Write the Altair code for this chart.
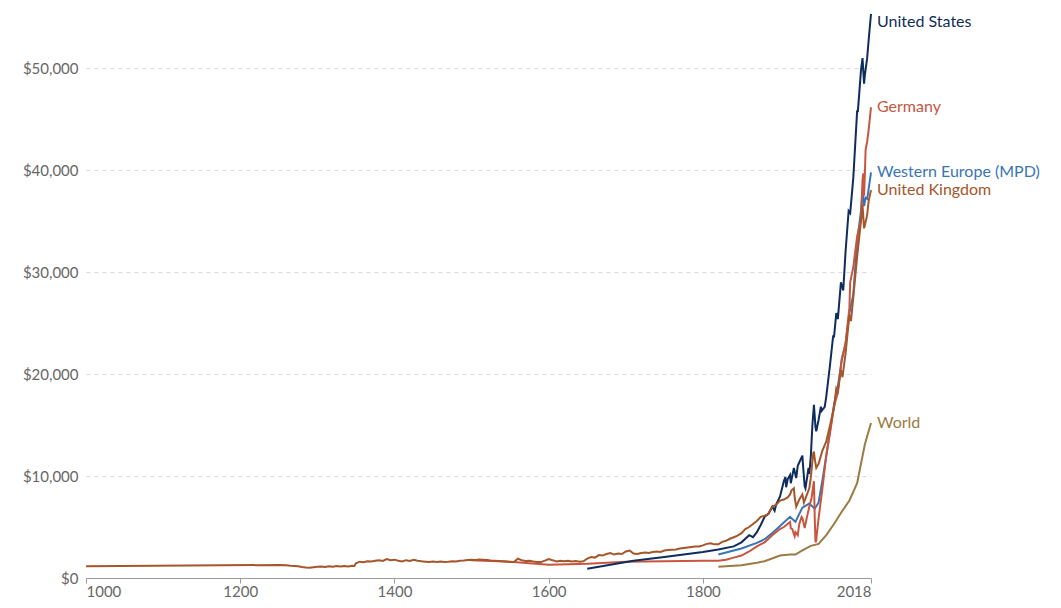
import altair as alt
import pandas as pd

# ---------------- data (GDP per capita, 2011 int-$) ----------------
uk_years = [1000, 1252, 1260, 1265, 1270, 1275, 1280, 1285, 1290, 1295, 1300, 1305, 1310, 1315, 1320,
            1325, 1330, 1335, 1340, 1345, 1348, 1350, 1355, 1360, 1365, 1370, 1375, 1380, 1385, 1390,
            1395, 1400, 1405, 1410, 1415, 1420, 1425, 1430, 1435, 1440, 1445, 1450, 1455, 1460, 1465,
            1470, 1475, 1480, 1485, 1490, 1495, 1500, 1505, 1510, 1515, 1520, 1525, 1530, 1535, 1540,
            1545, 1550, 1555, 1560, 1565, 1570, 1575, 1580, 1585, 1590, 1595, 1600, 1605, 1610, 1615,
            1620, 1625, 1630, 1635, 1640, 1645, 1650, 1655, 1660, 1665, 1670, 1675, 1680, 1685, 1690,
            1695, 1700, 1705, 1710, 1715, 1720, 1725, 1730, 1735, 1740, 1745, 1750, 1755, 1760, 1765,
            1770, 1775, 1780, 1785, 1790, 1795, 1800, 1805, 1810, 1815, 1820, 1825, 1830, 1835, 1840,
            1845, 1850, 1855, 1860, 1865, 1870, 1875, 1880, 1885, 1890, 1895, 1900, 1905, 1910, 1913,
            1915, 1918, 1919, 1921, 1925, 1929, 1931, 1935, 1938, 1940, 1943, 1944, 1945, 1947, 1950,
            1955, 1960, 1965, 1970, 1973, 1975, 1979, 1981, 1985, 1990, 1992, 1995, 2000, 2005, 2007,
            2009, 2010, 2013, 2015, 2018]
uk_values = [1150, 1280, 1250, 1200, 1180, 1150, 1080, 1020, 1000, 1060, 1100, 1130, 1090, 1160, 1110,
             1170, 1130, 1180, 1140, 1200, 1180, 1450, 1600, 1550, 1650, 1620, 1700, 1750, 1680, 1850,
             1750, 1800, 1700, 1620, 1750, 1680, 1780, 1700, 1640, 1600, 1560, 1620, 1580, 1620, 1560,
             1600, 1650, 1620, 1700, 1720, 1760, 1780, 1760, 1810, 1790, 1760, 1720, 1700, 1680, 1650,
             1620, 1580, 1560, 1900, 1750, 1680, 1700, 1620, 1580, 1560, 1700, 1850, 1750, 1620, 1700,
             1640, 1680, 1620, 1660, 1600, 1640, 1900, 2050, 2000, 2250, 2200, 2350, 2450, 2300, 2400,
             2350, 2600, 2700, 2400, 2350, 2450, 2500, 2450, 2550, 2600, 2550, 2700, 2750, 2780, 2800,
             2900, 2950, 3000, 3050, 3100, 3100, 3200, 3350, 3400, 3300, 3300, 3550, 3650, 3850, 4000,
             4150, 4400, 4800, 5000, 5300, 5600, 6000, 6100, 6300, 7000, 7200, 7600, 7700, 7900, 8200,
             8600, 8800, 7900, 7000, 7700, 8200, 7400, 8200, 8800, 9900, 12200, 12400, 11700, 10800, 11200,
             12500, 13400, 15000, 16700, 18600, 18300, 20400, 19700, 22000, 25800, 25200, 27500, 31500, 35000, 36600,
             34300, 34600, 35600, 37000, 38050]

us_years = [1650, 1710, 1750, 1800, 1820, 1840, 1850, 1860, 1865, 1870, 1875, 1880, 1885, 1890, 1893,
            1895, 1900, 1905, 1907, 1908, 1910, 1913, 1914, 1918, 1921, 1923, 1926, 1929, 1930, 1932,
            1933, 1937, 1938, 1940, 1942, 1944, 1946, 1947, 1950, 1953, 1954, 1958, 1960, 1965, 1969,
            1970, 1973, 1975, 1979, 1982, 1985, 1989, 1991, 1995, 2000, 2001, 2005, 2007, 2009, 2010,
            2013, 2015, 2018]
us_values = [900, 1700, 2050, 2550, 2800, 3100, 3500, 4200, 4000, 4500, 5200, 6000, 6300, 7000, 6600,
             7200, 8000, 9500, 9900, 8900, 9700, 10100, 9300, 10800, 9800, 11000, 11500, 12000, 10900, 9000,
             8800, 10800, 10200, 12000, 15000, 17000, 14800, 14400, 15500, 16800, 16400, 16800, 17800, 21000, 23800,
             23600, 26000, 25400, 29000, 28200, 32000, 36000, 35800, 39200, 45800, 45800, 49800, 51000, 48500, 49300,
             51000, 52800, 55330]

de_years = [1500, 1550, 1600, 1650, 1700, 1750, 1800, 1820, 1830, 1840, 1850, 1860, 1870, 1880, 1890,
            1900, 1905, 1913, 1914, 1916, 1918, 1919, 1920, 1923, 1925, 1928, 1929, 1932, 1935, 1938,
            1941, 1944, 1945, 1946, 1947, 1948, 1950, 1955, 1960, 1965, 1970, 1975, 1980, 1985, 1990,
            1991, 1995, 2000, 2005, 2006, 2007, 2008, 2009, 2010, 2011, 2013, 2015, 2018]
de_values = [1750, 1600, 1300, 1400, 1600, 1650, 1700, 1700, 1800, 2000, 2200, 2600, 3100, 3500, 4200,
             4800, 5000, 5500, 4900, 4800, 4300, 4100, 4500, 4200, 5300, 6000, 5900, 4900, 6000, 7000,
             7900, 9500, 6000, 3500, 3700, 4500, 5800, 8800, 12000, 14300, 16800, 18200, 21500, 23000, 26500,
             29000, 30500, 33500, 35200, 37000, 39000, 39700, 37500, 39500, 42000, 42800, 44000, 46180]

we_years = [1820, 1850, 1870, 1880, 1890, 1900, 1913, 1920, 1929, 1938, 1945, 1950, 1955, 1960, 1965,
            1970, 1975, 1980, 1985, 1990, 1995, 2000, 2005, 2007, 2009, 2011, 2013, 2015, 2018]
we_values = [2300, 2900, 3450, 3800, 4400, 5100, 6000, 5500, 6900, 7300, 6800, 7400, 9600, 12000, 14500,
             17000, 18800, 21300, 23000, 26000, 27800, 33000, 36000, 38000, 36500, 37300, 37200, 38200, 39800]

world_years = [1820, 1850, 1870, 1880, 1900, 1913, 1920, 1929, 1940, 1950, 1960, 1970, 1980, 1990, 2000,
               2010, 2018]
world_values = [1100, 1250, 1500, 1650, 2200, 2300, 2300, 2700, 3150, 3350, 4200, 5300, 6500, 7600, 9300,
                13100, 15200]

names = ["World", "Western Europe (MPD)", "Germany", "United States", "United Kingdom"]
colors = ["#9c7a42", "#3a74b6", "#c8563f", "#0f2d5c", "#a5562b"]
y_ticks = [0, 10000, 20000, 30000, 40000, 50000]
x_ticks = [1000, 1200, 1400, 1600, 1800, 2018]

series = {
    "United States": (us_years, us_values),
    "Germany": (de_years, de_values),
    "Western Europe (MPD)": (we_years, we_values),
    "United Kingdom": (uk_years, uk_values),
    "World": (world_years, world_values),
}

rows = []
for name in names:
    ys, vs = series[name]
    for yr, v in zip(ys, vs):
        rows.append({"country": name, "year": yr, "gdp": v})
df = pd.DataFrame(rows)

ymax = max(us_values)
last = []
for name in names:
    ys, vs = series[name]
    last.append({"country": name, "year": ys[-1], "gdp": vs[-1],
                 "label_y": min(vs[-1], ymax - 800)})
df_last = pd.DataFrame(last)

FONT = "Lato"
color_scale = alt.Scale(domain=names, range=colors)
x_scale = alt.Scale(domain=[1000, 2018], nice=False, zero=False)
y_scale = alt.Scale(domain=[0, ymax], nice=False)

lines = alt.Chart(df).mark_line(strokeWidth=2).encode(
    x=alt.X("year:Q", scale=x_scale,
            axis=alt.Axis(values=x_ticks, format="d", title=None, grid=False, labelFlush=True,
                          domainColor="#9a9a9a", tickColor="#9a9a9a", tickSize=5,
                          labelFontSize=15, labelColor="#666666", labelFont=FONT, labelPadding=1)),
    y=alt.Y("gdp:Q", scale=y_scale,
            axis=alt.Axis(values=y_ticks, format="$,.0f", title=None, domain=False, ticks=False,
                          gridDash=[4, 4], gridColor="#d9d9d9", labelFontSize=15,
                          labelColor="#666666", labelFont=FONT, labelPadding=8)),
    color=alt.Color("country:N", scale=color_scale, legend=None),
    order=alt.Order("year:Q"),
)

labels = alt.Chart(df_last).mark_text(align="left", baseline="middle", dx=6, fontSize=16, font=FONT).encode(
    x=alt.X("year:Q", scale=x_scale),
    y=alt.Y("label_y:Q", scale=y_scale),
    text="country:N",
    color=alt.Color("country:N", scale=color_scale, legend=None),
)

chart = alt.layer(lines, labels).properties(
    width=785, height=564,
    autosize=alt.AutoSizeParams(type="none"),
    padding={"left": 78, "top": 6, "right": 182, "bottom": 22},
).configure(font=FONT, background="white").configure_view(stroke=None, strokeWidth=0)

chart.save("out.html", embed_options={"renderer": "svg", "actions": False})
